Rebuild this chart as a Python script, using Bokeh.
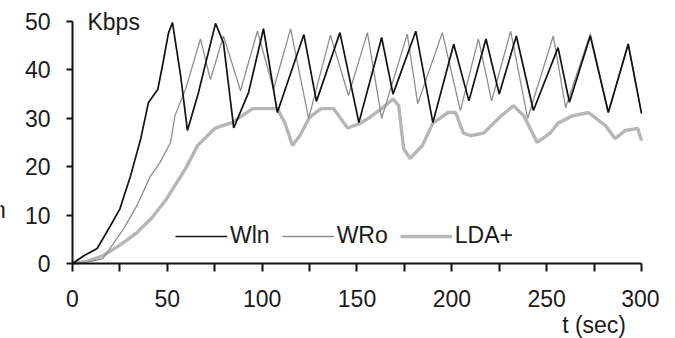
from bokeh.plotting import figure
from bokeh.models import Range1d, FixedTicker, Label, Legend, LegendItem, LinearAxis
from bokeh.embed import file_html
from bokeh.resources import INLINE

# ---- data ----
wln_t = [0, 6, 13, 20, 25, 30.6, 36, 40, 45, 47.4, 50.6, 52.7, 57, 60.6, 66.4, 75.4, 79.6, 85, 92.8,
         100.7, 108, 122, 128.6, 141, 151, 163, 169, 181, 190, 201, 209, 218, 225, 234, 243, 256,
         262, 273, 282.5, 293, 300]
wln_v = [0, 1.6, 3.1, 7.8, 11.3, 18.1, 25.8, 33.2, 36, 40.8, 47.6, 49.8, 38.8, 27.5, 35.3, 49.6, 45.6,
         28, 35.3, 48.5, 31.2, 47.3, 33.5, 47.7, 29.1, 46.7, 35, 48, 29.1, 45.3, 33.6, 46.4, 35, 47,
         31.6, 44.6, 33.3, 47, 31.2, 45.3, 31]

wro_t = [0, 8, 16, 27, 34, 41, 46, 51.7, 54, 59.6, 67.5, 72.7, 79.6, 88.6, 97.5, 106, 115, 124.5,
         136, 145.5, 155.5, 163, 176.5, 182, 195, 204.5, 214, 221, 231, 240, 253.5, 260, 273, 282.5,
         293, 300]
wro_v = [0, 0.3, 1, 7.2, 12, 18, 20.8, 25, 30.5, 36, 46.4, 38, 47, 35.7, 48, 36, 48.5, 30, 47.2,
         34.7, 47.7, 30, 47.4, 33, 47.7, 31.6, 46.4, 33.6, 48, 30, 47, 32.2, 47.5, 31.2, 45.5, 31]

lda_t = [0, 8, 16, 25, 34, 42, 49, 51.7, 59.6, 66, 75, 84, 95, 108, 112, 116, 120, 125, 131, 137.6,
         145, 152, 156, 163, 169, 172, 174.6, 178, 184.5, 190, 198, 202, 206, 210, 217, 226, 232.5,
         238, 245, 252, 256, 263.5, 272, 281, 286, 291.5, 298, 300]
lda_v = [0, 0.5, 1.6, 3.8, 6.4, 9.5, 13, 14.7, 19.6, 24.4, 27.9, 29.1, 32, 32, 29, 24.4, 26.5, 30.2,
         32, 32, 28, 29, 30, 32, 34, 32.6, 23.7, 21.7, 24.4, 29, 31.2, 31.2, 27, 26.4, 27, 30.5, 32.6,
         30.5, 25, 27, 29, 30.5, 31.2, 28.5, 25.8, 27.5, 27.9, 25.4]

x_ticks = [0, 50, 100, 150, 200, 250, 300]
x_minor = [25, 75, 125, 175, 225, 275]
y_ticks = [0, 10, 20, 30, 40, 50]

FONT = "Liberation Sans"
FS = "23px"
TXT = "#1a1a1a"

# frame covers the whole canvas; axes are pinned at t=0 / v=0
p = figure(width=659, height=338, output_backend="svg", toolbar_location=None,
           x_range=Range1d(-37.96, 309.49), y_range=Range1d(-15.5, 54.34),
           x_axis_location=None, y_axis_location=None,
           min_border_left=0, min_border_right=0, min_border_top=0, min_border_bottom=0)
p.outline_line_color = None
p.grid.visible = False
p.background_fill_color = "white"
p.border_fill_color = "white"

r_lda = p.line(lda_t, lda_v, line_color="#b6b6b6", line_width=3.4)
r_wro = p.line(wro_t, wro_v, line_color="#8e8e8e", line_width=1.3)
r_wln = p.line(wln_t, wln_v, line_color="#111111", line_width=1.7)

xax = LinearAxis(fixed_location=0, bounds=(0, 300),
                 ticker=FixedTicker(ticks=x_ticks, minor_ticks=x_minor))
yax = LinearAxis(fixed_location=0, bounds=(0, 50),
                 ticker=FixedTicker(ticks=y_ticks, minor_ticks=[]))
for ax in (xax, yax):
    ax.axis_line_color = "#111111"
    ax.axis_line_width = 2
    ax.major_tick_line_color = "#111111"
    ax.major_tick_line_width = 2
    ax.minor_tick_line_color = "#111111"
    ax.minor_tick_line_width = 2
    ax.major_label_text_font = FONT
    ax.major_label_text_font_size = FS
    ax.major_label_text_color = TXT
    ax.major_tick_in = 0
    ax.minor_tick_in = 0
xax.major_tick_out = 8
xax.minor_tick_out = 8
xax.major_label_standoff = 19
yax.major_tick_out = 6
yax.major_label_standoff = 16
p.add_layout(xax, "below")
p.add_layout(yax, "left")

p.add_layout(Label(x=7.9, y=50, text="Kbps", text_font=FONT, text_font_size=FS,
                   text_baseline="middle", text_color=TXT))
p.add_layout(Label(x=275, y=-15.3, text="t (sec)", text_font=FONT, text_font_size=FS,
                   text_baseline="bottom", text_align="center", text_color=TXT))
# cut-off fragment of a label at the left edge
p.add_layout(Label(x=-35.2, y=11.1, text="n", text_font=FONT, text_font_size=FS,
                   text_baseline="middle", text_align="right", text_color=TXT))

legend = Legend(items=[LegendItem(label="Wln", renderers=[r_wln]),
                       LegendItem(label="WRo", renderers=[r_wro]),
                       LegendItem(label="LDA+", renderers=[r_lda])],
                orientation="horizontal", location=(175, 89),
                glyph_width=52, glyph_height=24, label_height=24, label_standoff=3,
                spacing=12, padding=0, margin=0,
                label_text_font=FONT, label_text_font_size=FS, label_text_color=TXT,
                border_line_color=None, background_fill_alpha=0)
p.add_layout(legend)

open("out.html", "w").write(file_html(p, INLINE))
